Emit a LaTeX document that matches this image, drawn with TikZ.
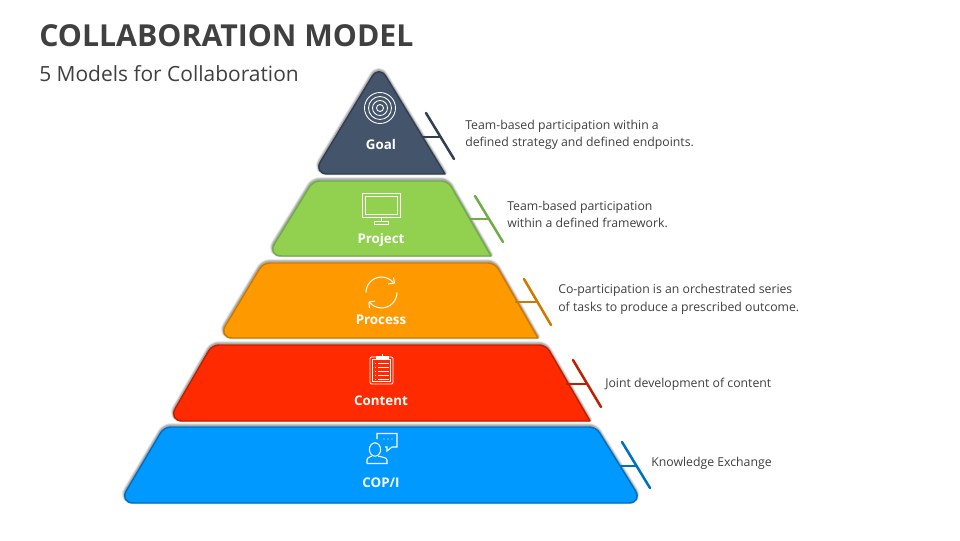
\documentclass[tikz,border=0pt]{standalone}
\usepackage{fontspec}
\setmainfont{Open Sans}
\usetikzlibrary{arrows.meta}
\definecolor{cgoal}{HTML}{44546A}\definecolor{cgoald}{HTML}{333F50}
\definecolor{cproj}{HTML}{92D050}\definecolor{cprojd}{HTML}{70AD47}
\definecolor{cproc}{HTML}{FF9900}\definecolor{cprocd}{HTML}{CC7A00}
\definecolor{ccont}{HTML}{FF2A00}\definecolor{ccontd}{HTML}{C02000}
\definecolor{ccop}{HTML}{0099FF}\definecolor{ccopd}{HTML}{0070C0}
\definecolor{ctxt}{HTML}{404040}
\tikzset{
 x=0.75pt,y=-0.75pt,
 title/.style={anchor=base west,inner sep=0,font=\fontsize{22.7}{26}\selectfont\bfseries,text=ctxt},
 subtitle/.style={anchor=base west,inner sep=0,font=\fontsize{15.7}{18}\selectfont,text=ctxt},
 desc/.style={anchor=base west,inner sep=0,font=\fontsize{9.2}{11}\selectfont,text=ctxt},
 lab/.style={inner sep=0,anchor=base,font=\fontsize{10}{12}\selectfont\bfseries,text=white},
 tick/.style={line width=1.9pt,line cap=round},
 stem/.style={line width=1.9pt},
 icon/.style={draw=white,line width=0.65pt,fill=none},
 body/.style={line width=1.1pt,line join=round},
}
% #1 path, #2 fill, #3 stroke
\newcommand{\tier}[3]{%
 \foreach \w/\o in {4/0.07,2.8/0.11,1.6/0.17}{\draw[black,opacity=\o,line width=\w pt,line join=round,yshift=1pt,xshift=-0.2pt] #1;}
 \draw[body,fill=#2,draw=#3] #1;}
\begin{document}
\begin{tikzpicture}
\useasboundingbox (0,0) rectangle (960,540);
\fill[white] (0,0) rectangle (960,540);
\node[title] (ttl) at (39,46) {COLLABORATION MODEL};
\node[subtitle] (sub) at (39,81) {5 Models for Collaboration};
% tiers
\tier{(445,174) -- (380,174) [rounded corners=11pt] -- (313,174) [rounded corners=10pt] -- (379,65) [sharp corners] -- (445,174) -- cycle}{cgoal}{cgoald}
\tier{(491,256) -- (380,256) [rounded corners=11pt] -- (267,256) [rounded corners=5pt] -- (313,181) -- (448,181) [sharp corners] -- (491,256) -- cycle}{cproj}{cprojd}
\tier{(538,338) -- (380,338) [rounded corners=11pt] -- (218,338) [rounded corners=5pt] -- (263,263) -- (495,263) [sharp corners] -- (538,338) -- cycle}{cproc}{cprocd}
\tier{(590,421) -- (380,421) [rounded corners=11pt] -- (168,421) [rounded corners=5pt] -- (212,345) -- (546,345) [sharp corners] -- (590,421) -- cycle}{ccont}{ccontd}
\tier{(380,503) [rounded corners=11pt] -- (119,503) [rounded corners=5pt] -- (164,427) -- (596,427) [rounded corners=11pt] -- (643,503) [sharp corners] -- (380,503) -- cycle}{ccop}{ccopd}
% connectors
\coordinate (g1) at (426,113);\coordinate (g2) at (454,159);\coordinate (gs) at (423,137);\coordinate (gm) at (440,137);
\coordinate (p1) at (475,196);\coordinate (p2) at (503,242);\coordinate (ps) at (469,219);\coordinate (pm) at (489,219);
\coordinate (r1) at (524,279);\coordinate (r2) at (551,325);\coordinate (rs) at (515,302);\coordinate (rm) at (538,302);
\coordinate (c1) at (573,360);\coordinate (c2) at (601,407);\coordinate (cs) at (566,384);\coordinate (cm) at (587,384);
\coordinate (k1) at (622,442);\coordinate (k2) at (650,488);\coordinate (ks) at (620,466);\coordinate (km) at (636,466);
\draw[tick,cgoald] (g1) -- (g2); \draw[stem,cgoald] (gs) -- (gm);
\draw[tick,cprojd] (p1) -- (p2); \draw[stem,cprojd] (ps) -- (pm);
\draw[tick,cprocd] (r1) -- (r2); \draw[stem,cprocd] (rs) -- (rm);
\draw[tick,ccontd] (c1) -- (c2); \draw[stem,ccontd] (cs) -- (cm);
\draw[tick,ccopd] (k1) -- (k2); \draw[stem,ccopd] (ks) -- (km);
% labels
\node[lab] (lg) at (381,149) {Goal};
\node[lab] (lp) at (381,243) {Project};
\node[lab] (lr) at (381,324) {Process};
\node[lab] (lc) at (381,405) {Content};
\node[lab] (lk) at (381,487) {COP/I};
% descriptions
\node[desc] (d1a) at (465,129) {Team-based participation within a};
\node[desc] (d1b) at (465,146) {defined strategy and defined endpoints.};
\node[desc] (d2a) at (507,210) {Team-based participation};
\node[desc] (d2b) at (507,227) {within a defined framework.};
\node[desc] (d3a) at (558,293) {Co-participation is an orchestrated series};
\node[desc] (d3b) at (558,311) {of tasks to produce a prescribed outcome.};
\node[desc] (d4) at (605,387) {Joint development of content};
\node[desc] (d5) at (651,466) {Knowledge Exchange};
% icon: target
\foreach \r in {15.5,11.5,7.5,3.5}{\draw[icon] (380,108) circle[radius=\r*0.75pt];}
% icon: monitor
\draw[icon] (362,193) rectangle (400,217);
\draw[icon] (365,196) rectangle (397,214);
\draw[icon] (381,217) -- (381,221);
\draw[icon] (374,221) rectangle (388,224);
% icon: cycle
\draw[icon,line width=0.75pt] (366,292.5) arc[start angle=180,end angle=40,radius=11.6pt];
\draw[icon,line width=0.75pt] (397,292.5) arc[start angle=0,end angle=-140,radius=11.6pt];
\draw[icon,line width=0.75pt] (393.5,277.5) -- (394.5,283) -- (388,284);
\draw[icon,line width=0.75pt] (369.5,308) -- (369,302) -- (375,301);
% icon: clipboard
\draw[icon,rounded corners=1pt] (370,357) rectangle (393,384);
\draw[icon] (372.5,359.5) rectangle (390.5,381.5);
\draw[icon,fill=white] (376,356) rectangle (388,359);
\draw[icon] (382,356) -- (382,354);
\foreach \y in {363,367,371,375,379}{\draw[icon,line width=0.5pt] (374.5,\y) -- (376,\y) (378,\y) -- (389,\y);}
% icon: person + bubble
\draw[icon,line width=0.8pt] (375,449.5) ellipse[x radius=4.2pt,y radius=5pt];
\draw[icon,line width=0.8pt] (367,463.5) -- (367,460) .. controls (367,457) and (371,457) .. (372,456) (378,456) .. controls (380,457) and (387,457) .. (387,460) -- (387,463.5) -- (367,463.5);
\draw[icon,line width=0.8pt] (377,439) -- (377,433.5) -- (397,433.5) -- (397,447) -- (392,447) -- (387,451) -- (387,447) -- (385,447);
\foreach \x in {384,388,392}{\fill[white] (\x,439) circle[radius=0.5pt];}
\end{tikzpicture}
\end{document}
